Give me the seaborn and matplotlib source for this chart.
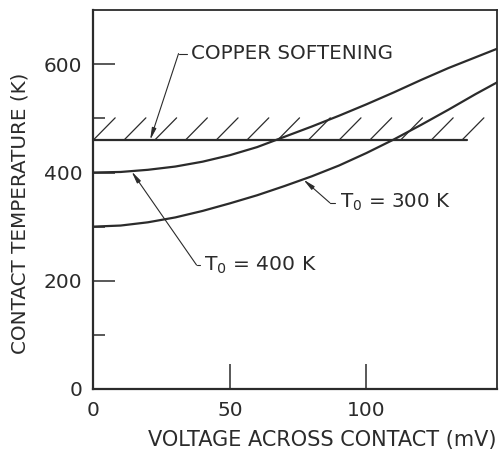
import numpy as np
import pandas as pd
import matplotlib
matplotlib.use("Agg")
import matplotlib.pyplot as plt
import seaborn as sns

# ---------------- data ----------------
voltage_mv = [0, 10, 20, 30, 40, 50, 60, 70, 80, 90, 100, 110, 120, 130, 140, 148]
temp_t0_400 = [400, 401, 405, 411, 420, 432, 447, 466, 485, 505, 526, 548, 571, 593, 613, 629]
temp_t0_300 = [300, 302, 308, 317, 329, 343, 358, 375, 393, 413, 436, 461, 488, 516, 545, 567]

softening_temp = 460
softening_v = [0, 136.8]

x_ticks = [0, 50, 100]
y_ticks = [0, 200, 400, 600]
y_minor_ticks = [100, 300, 500]

x_label = "VOLTAGE ACROSS CONTACT (mV)"
y_label = "CONTACT TEMPERATURE (K)"
label_copper = "COPPER SOFTENING"
label_300 = "T$_0$ = 300 K"
label_400 = "T$_0$ = 400 K"

# ---------------- style ----------------
sns.set_style("ticks")
plt.rcParams["font.family"] = ["DejaVu Sans"]
plt.rcParams["mathtext.fontset"] = "dejavusans"
INK = "#2b2b2b"

df = pd.DataFrame({
    "V": voltage_mv * 2,
    "T": temp_t0_400 + temp_t0_300,
    "series": ["400"] * len(voltage_mv) + ["300"] * len(voltage_mv),
})

fig = plt.figure(figsize=(4.99, 4.51), dpi=100)
ax = fig.add_axes([0.187, 0.1375, 0.809, 0.840])

sns.lineplot(data=df, x="V", y="T", units="series", estimator=None,
             color=INK, lw=1.6, ax=ax, legend=False)

# copper softening line with hatching
ax.plot(softening_v, [softening_temp] * 2, color=INK, lw=1.6)
for hv in np.linspace(0, 135, 13):
    ax.plot([hv, hv + 8.0], [softening_temp, softening_temp + 41], color=INK, lw=0.9)

ax.set_xlim(0, 147.8)
ax.set_ylim(0, 700)
ax.set_xticks(x_ticks)
ax.set_yticks(y_ticks)
ax.set_yticks(y_minor_ticks, minor=True)
ax.tick_params(axis="x", which="major", direction="in", length=18, width=1.1,
               pad=9, labelsize=14.5, colors=INK)
ax.tick_params(axis="y", which="major", direction="in", length=16, width=1.1,
               pad=8, labelsize=14.5, colors=INK)
ax.tick_params(axis="y", which="minor", direction="in", length=8.5, width=1.1, colors=INK)
ax.tick_params(axis="x", which="minor", bottom=False)
for s in ax.spines.values():
    s.set_color(INK)
    s.set_linewidth(1.3)
ax.spines["left"].set_linewidth(1.6)
ax.spines["bottom"].set_linewidth(1.6)

ax.set_xlabel(x_label, fontsize=15, color=INK)
ax.set_ylabel(y_label, fontsize=14.3, color=INK)
ax.xaxis.set_label_coords(0.567, -0.108)
ax.yaxis.set_label_coords(-0.158, 0.464)

arrow = dict(arrowstyle="-|>,head_length=0.7,head_width=0.13", color=INK, lw=0.8,
             shrinkA=0, shrinkB=0)

# COPPER SOFTENING annotation
ax.annotate("", xy=(20.8, softening_temp), xytext=(31.2, 619.7), arrowprops=arrow)
ax.plot([31.2, 34.2], [619.7, 619.7], color=INK, lw=0.8)
ax.text(35.8, 619.7, label_copper, fontsize=14.3, color=INK, va="center", ha="left")

# T0 = 300 K annotation
ax.annotate("", xy=(76.9, 387), xytext=(86.6, 344), arrowprops=arrow)
ax.plot([86.6, 88.6], [344, 344], color=INK, lw=0.8)
ax.text(90.2, 344, label_300, fontsize=14.3, color=INK, va="center", ha="left")

# T0 = 400 K annotation
ax.annotate("", xy=(14.0, 402), xytext=(37.8, 229), arrowprops=arrow)
ax.plot([37.8, 39.0], [229, 229], color=INK, lw=0.8)
ax.text(40.6, 229, label_400, fontsize=14.6, color=INK, va="center", ha="left")

fig.savefig("out.png", dpi=100)
